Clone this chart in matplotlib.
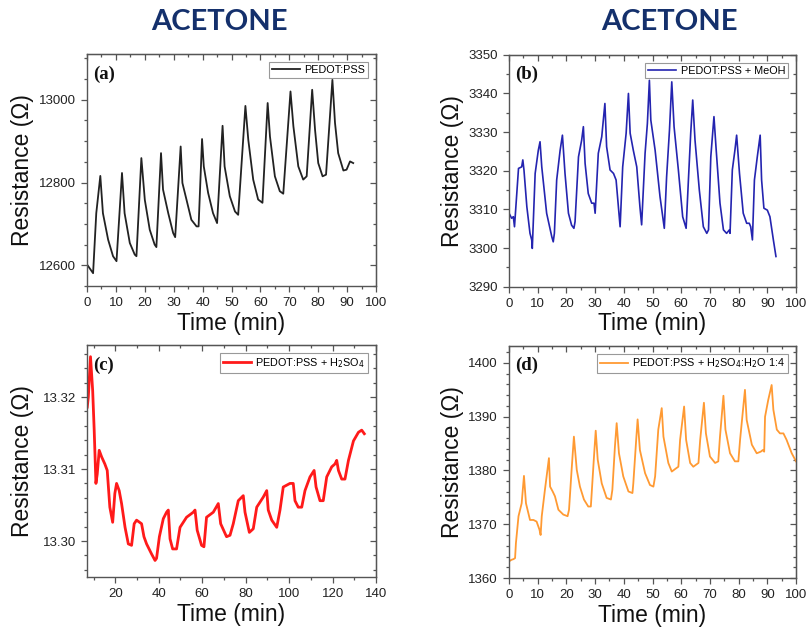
import numpy as np
import matplotlib
matplotlib.use('Agg')
import matplotlib.pyplot as plt
from matplotlib.ticker import MultipleLocator, NullFormatter

plt.rcParams['font.family'] = ['Liberation Sans', 'DejaVu Sans']

# (a) PEDOT:PSS
ta = [0, 2.1, 3.2, 4.6, 5.5, 7.3, 9.0, 10.2, 12.1, 13.0, 14.8, 16.5, 17.1, 18.8,
      20.0, 21.7, 23.4, 24.0, 25.6, 26.3, 28.1, 29.8, 30.5, 32.4, 33.0, 34.4, 36.1,
      37.9, 38.6, 39.8, 40.4, 41.9, 43.6, 45.0, 46.9, 47.6, 49.4, 51.2, 52.3, 54.8,
      55.8, 57.5, 59.2, 60.7, 62.5, 63.3, 65.0, 66.7, 67.9, 70.4, 71.4, 73.1, 74.8,
      76.0, 77.9, 78.9, 80.0, 81.5, 82.7, 84.9, 85.8, 86.9, 88.7, 89.8, 91.0, 92.1]
ra = [12602, 12581, 12726, 12816, 12726, 12662, 12622, 12610, 12823, 12726, 12654,
      12626, 12622, 12859, 12758, 12686, 12650, 12644, 12871, 12783, 12726, 12678,
      12668, 12887, 12799, 12759, 12710, 12694, 12694, 12905, 12839, 12775, 12726,
      12702, 12937, 12839, 12767, 12730, 12722, 12985, 12903, 12807, 12759, 12751,
      12992, 12911, 12815, 12779, 12773, 13020, 12936, 12839, 12807, 12815, 13024,
      12927, 12847, 12815, 12819, 13048, 12944, 12871, 12829, 12831, 12851, 12847]

# (b) PEDOT:PSS + MeOH
tb = [0, 0.9, 1.5, 1.9, 3.3, 4.4, 4.8, 5.2, 6.2, 7.3, 7.9, 8.1, 9.1, 10.2, 10.8,
      11.4, 13.1, 14.9, 15.4, 15.8, 16.6, 17.8, 18.6, 19.5, 20.7, 21.8, 22.6, 23.0,
      24.2, 25.3, 25.9, 26.5, 27.6, 28.8, 29.6, 30.0, 31.1, 32.3, 33.4, 34.0, 35.2,
      36.4, 37.3, 38.7, 39.6, 40.8, 41.6, 42.2, 43.3, 44.5, 45.6, 46.2, 47.4, 48.2,
      48.9, 49.4, 50.9, 52.6, 54.1, 54.9, 55.9, 56.7, 57.5, 59.0, 60.5, 61.7, 62.5,
      63.3, 64.0, 64.8, 66.3, 67.7, 68.9, 69.5, 70.3, 71.4, 72.1, 73.5, 74.7, 75.8,
      76.8, 77.0, 77.8, 78.7, 79.3, 80.3, 81.6, 82.8, 83.7, 84.2, 84.8, 85.5, 86.5,
      87.5, 88.0, 88.8, 90.0, 90.9, 92.1, 93.0]
rb = [3309.0, 3307.7, 3308.1, 3305.5, 3320.6, 3321.0, 3322.8, 3320.2, 3310.7, 3303.8,
      3302.1, 3299.9, 3319.3, 3325.3, 3327.5, 3321.0, 3309.0, 3302.9, 3301.6, 3303.8,
      3317.6, 3325.3, 3329.2, 3319.3, 3309.0, 3305.9, 3305.1, 3306.8, 3323.6, 3327.9,
      3331.4, 3321.9, 3314.1, 3311.6, 3311.6, 3309.0, 3324.5, 3328.8, 3337.4, 3326.2,
      3320.2, 3319.3, 3317.6, 3305.5, 3321.0, 3329.7, 3340.0, 3329.7, 3325.3, 3321.0,
      3310.7, 3306.0, 3324.5, 3332.2, 3343.4, 3333.1, 3325.3, 3313.3, 3305.1, 3318.4,
      3330.5, 3343.0, 3331.4, 3320.2, 3308.1, 3305.1, 3317.6, 3329.7, 3338.3, 3327.9,
      3315.0, 3305.5, 3303.8, 3304.7, 3323.6, 3334.0, 3326.2, 3311.6, 3304.7, 3303.8,
      3304.7, 3303.8, 3320.2, 3325.3, 3329.2, 3319.3, 3309.0, 3306.4, 3306.4, 3305.5,
      3302.1, 3317.6, 3323.6, 3329.2, 3317.6, 3310.3, 3309.8, 3308.1, 3302.1, 3297.8]

# (c) PEDOT:PSS + H2SO4
tc = [7.1, 7.6, 8.6, 9.6, 10.3, 11.1, 11.7, 12.6, 13.7, 15.2, 16.3, 17.5, 18.8, 19.8,
      20.6, 21.8, 22.9, 24.5, 26.0, 27.5, 28.7, 29.8, 32.1, 33.2, 34.4, 36.7, 38.3,
      39.0, 40.3, 42.1, 43.6, 44.4, 45.2, 46.4, 48.2, 49.8, 52.8, 55.9, 56.7, 57.7,
      59.7, 60.8, 62.0, 65.1, 67.4, 68.5, 71.2, 72.8, 74.3, 76.6, 78.9, 79.7, 81.7,
      83.5, 85.1, 88.1, 89.7, 90.4, 92.0, 94.3, 95.8, 97.3, 100.4, 101.9, 102.7, 104.2,
      105.8, 107.3, 109.6, 111.5, 112.4, 114.2, 115.7, 117.3, 119.6, 121.1, 121.9,
      122.7, 124.2, 125.7, 127.3, 129.6, 131.9, 133.4, 134.6]
rc = [13.3186, 13.3200, 13.3256, 13.3209, 13.3154, 13.3080, 13.3093, 13.3126, 13.3117,
      13.3107, 13.3098, 13.3047, 13.3026, 13.3066, 13.3080, 13.3070, 13.3052, 13.3019,
      13.2996, 13.2994, 13.3024, 13.3029, 13.3024, 13.3006, 13.2996, 13.2982, 13.2973,
      13.2976, 13.3006, 13.3031, 13.3040, 13.3043, 13.3003, 13.2989, 13.2989, 13.3019,
      13.3033, 13.3040, 13.3043, 13.3015, 13.2994, 13.2992, 13.3033, 13.3040, 13.3052,
      13.3024, 13.3006, 13.3008, 13.3024, 13.3056, 13.3063, 13.3040, 13.3012, 13.3017,
      13.3047, 13.3061, 13.3070, 13.3043, 13.3029, 13.3019, 13.3043, 13.3075, 13.3080,
      13.3080, 13.3056, 13.3047, 13.3047, 13.3070, 13.3089, 13.3098, 13.3075, 13.3056,
      13.3056, 13.3089, 13.3103, 13.3107, 13.3112, 13.3098, 13.3086, 13.3086, 13.3112,
      13.3139, 13.3151, 13.3154, 13.3149]

# (d) PEDOT:PSS + H2SO4:H2O 1:4
td = [0, 0.9, 1.5, 2.1, 2.4, 3.3, 4.4, 5.2, 5.9, 7.3, 8.5, 9.6, 10.6, 11.0, 11.4,
      12.5, 13.9, 14.3, 15.2, 16.0, 17.2, 18.9, 20.4, 20.9, 21.8, 22.6, 23.6, 24.7,
      26.1, 27.6, 28.5, 28.8, 29.6, 30.2, 30.9, 32.3, 34.0, 35.5, 36.0, 36.9, 37.5,
      38.3, 39.8, 41.6, 43.0, 43.3, 44.3, 44.8, 45.6, 47.4, 49.1, 50.3, 50.9, 52.0,
      53.2, 53.8, 55.5, 56.7, 58.2, 59.0, 59.6, 61.0, 61.7, 63.1, 64.2, 66.0, 66.6,
      67.9, 68.6, 70.0, 71.8, 72.9, 73.5, 74.7, 75.4, 77.0, 78.7, 79.9, 80.5, 82.2,
      82.8, 84.6, 86.3, 87.7, 88.4, 88.9, 89.2, 90.3, 91.5, 92.1, 93.3, 94.4, 95.6,
      96.7, 98.5, 100]
rd = [1363.1, 1363.4, 1363.5, 1363.7, 1366.5, 1371.5, 1373.9, 1379.0, 1373.9, 1370.8,
      1370.8, 1370.5, 1369.0, 1368.0, 1371.5, 1376.4, 1382.3, 1377.0, 1376.1, 1375.2,
      1372.7, 1371.8, 1371.5, 1372.7, 1380.1, 1386.3, 1380.1, 1377.0, 1374.6, 1373.3,
      1373.3, 1375.8, 1382.6, 1387.4, 1382.0, 1377.6, 1374.9, 1374.6, 1376.4, 1384.5,
      1388.8, 1383.2, 1378.9, 1376.1, 1375.8, 1377.6, 1385.7, 1389.5, 1383.8, 1379.5,
      1377.3, 1377.0, 1378.9, 1387.6, 1391.6, 1386.3, 1381.4, 1379.8, 1380.4, 1380.7,
      1385.7, 1391.9, 1385.7, 1381.4, 1380.7, 1381.4, 1385.7, 1392.6, 1386.9, 1382.6,
      1381.4, 1381.7, 1386.3, 1393.9, 1387.6, 1383.2, 1381.7, 1381.7, 1385.7, 1395.0,
      1389.4, 1384.8, 1383.2, 1383.5, 1383.8, 1383.5, 1390.0, 1393.1, 1395.9, 1391.3,
      1387.6, 1386.9, 1386.9, 1385.7, 1383.2, 1381.7]

fig = plt.figure(figsize=(8.08, 6.30), dpi=100)


def setup(ax, xlim, ylim, xmaj, xmin, ymaj, ymin, yfmt, ylab_x):
    ax.set_xlim(xlim)
    ax.set_ylim(ylim)
    ax.xaxis.set_major_locator(MultipleLocator(xmaj))
    ax.xaxis.set_minor_locator(MultipleLocator(xmin))
    ax.yaxis.set_major_locator(MultipleLocator(ymaj))
    ax.yaxis.set_minor_locator(MultipleLocator(ymin))
    ax.yaxis.set_major_formatter(yfmt)
    for s in ax.spines.values():
        s.set_color('#555555')
        s.set_linewidth(1.0)
    ax.tick_params(which='both', direction='out', colors='#555555',
                   labelcolor='#222222', labelsize=9.5, width=0.9)
    ax.tick_params(which='major', length=4.5)
    ax.tick_params(which='minor', length=2.2)
    # inward ticks on top and right, no labels
    top = ax.secondary_xaxis('top')
    right = ax.secondary_yaxis('right')
    for sec, axis in ((top, top.xaxis), (right, right.yaxis)):
        axis.set_major_locator(MultipleLocator(xmaj if sec is top else ymaj))
        axis.set_minor_locator(MultipleLocator(xmin if sec is top else ymin))
        axis.set_major_formatter(NullFormatter())
        sec.tick_params(which='both', direction='in', colors='#555555', width=0.9)
        sec.tick_params(which='major', length=4.5)
        sec.tick_params(which='minor', length=2.2)
    ax.set_xlabel('Time (min)', fontsize=16.5, color='#111111')
    ax.set_ylabel('Resistance (\u03a9)', fontsize=16.5, color='#111111')
    ax.xaxis.set_label_coords(0.5, -0.11)
    ax.yaxis.set_label_coords(ylab_x, 0.5)


def finish(ax, tag):
    leg = ax.legend(loc='upper right', fontsize=7.8, handlelength=2.6, borderpad=0.25,
                    handletextpad=0.4, borderaxespad=0.75, fancybox=False, framealpha=1)
    leg.get_frame().set_edgecolor('#999999')
    leg.get_frame().set_linewidth(0.8)
    ax.text(0.02, 0.915, tag, transform=ax.transAxes, fontsize=13.5, fontweight='bold',
            family='Liberation Serif', va='center', ha='left', color='#111111')


axa = fig.add_axes([0.1077, 0.546, 0.3577, 0.368])
axa.plot(ta, ra, color='#222222', lw=1.3, label='PEDOT:PSS')
setup(axa, (0, 100), (12550, 13110), 10, 5, 200, 50, '{x:.0f}', -0.185)
finish(axa, '(a)')

axb = fig.add_axes([0.630, 0.545, 0.3552, 0.368])
axb.plot(tb, rb, color='#2424b0', lw=1.2, label='PEDOT:PSS + MeOH')
setup(axb, (0, 100), (3290, 3350), 10, 5, 10, 5, '{x:.0f}', -0.158)
finish(axb, '(b)')

axc = fig.add_axes([0.1077, 0.0841, 0.3577, 0.368])
axc.plot(tc, rc, color='#ff1a1a', lw=2.0, label='PEDOT:PSS + H$_2$SO$_4$')
setup(axc, (7, 140), (13.295, 13.3272), 20, 10, 0.01, 0.002, '{x:.2f}', -0.185)
finish(axc, '(c)')

axd = fig.add_axes([0.630, 0.0825, 0.3552, 0.3687])
axd.plot(td, rd, color='#ff9a33', lw=1.3, label='PEDOT:PSS + H$_2$SO$_4$:H$_2$O 1:4')
setup(axd, (0, 100), (1360, 1403.2), 10, 5, 10, 2, '{x:.0f}', -0.158)
finish(axd, '(d)')

fig.text(0.272, 0.965, 'ACETONE', fontsize=21, fontweight='bold', family='Lato',
         color='#14306c', ha='center', va='center')
fig.text(0.828, 0.965, 'ACETONE', fontsize=21, fontweight='bold', family='Lato',
         color='#14306c', ha='center', va='center')

fig.savefig('out.png', dpi=100)
